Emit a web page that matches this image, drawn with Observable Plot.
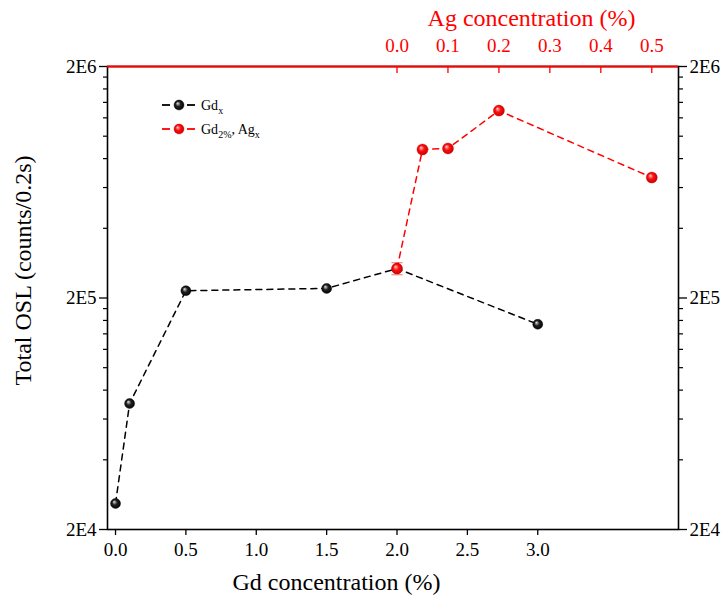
<!DOCTYPE html>
<html><head><meta charset="utf-8">
<script src="https://cdn.jsdelivr.net/npm/d3@7"></script>
<script src="https://cdn.jsdelivr.net/npm/@observablehq/plot@0.6"></script>
<style>
body{margin:0;background:#fff}
svg{display:block}
</style>
</head><body><div id="chart"></div>
<script>
// Data
const gdConc = [0, 0.1, 0.5, 1.5, 2.0, 3.0];
const gdOSL  = [25900, 70000, 215000, 220000, 268000, 154000];
const agConc = [0.0, 0.05, 0.1, 0.2, 0.5];
const agOSL  = [268000, 876000, 885000, 1290000, 663000];
const agErr  = [16000, 0, 0, 0, 0];
const gdTicks = [0, 0.5, 1.0, 1.5, 2.0, 2.5, 3.0];
const agTicks = [0.0, 0.1, 0.2, 0.3, 0.4, 0.5];
const yTicks = [2e4, 2e5, 2e6];
const yTickLabels = ["2E4", "2E5", "2E6"];
const yMinor = [4e4, 6e4, 8e4, 1e5, 1.2e5, 1.4e5, 1.6e5, 1.8e5,
                4e5, 6e5, 8e5, 1e6, 1.2e6, 1.4e6, 1.6e6, 1.8e6];

// Ag axis sits on top: Ag 0 aligned with Gd 2.0
const AG_ORIGIN = 2.0, AG_SCALE = 3.62;
const agToX = a => AG_ORIGIN + a * AG_SCALE;

const gdData = gdConc.map((c, i) => ({x: c, y: gdOSL[i]}));
const agData = agConc.map((c, i) => ({x: agToX(c), y: agOSL[i], e: agErr[i]}));
const agErrData = agData.filter(d => d.e > 0);
const fmtY = d => yTickLabels[yTicks.indexOf(d)];

const SERIF = "'Liberation Serif', 'Times New Roman', Times, 'DejaVu Serif', serif";
const RED = "#ff0000";
const TICK_FS = 19, TITLE_FS = 24;
const plot = Plot.plot({
  width: 725, height: 606,
  marginLeft: 107, marginRight: 47, marginTop: 66, marginBottom: 77,
  style: {fontFamily: SERIF, fontSize: "19px", color: "black", background: "white"},
  x: {domain: [-0.057, 4.0]},
  y: {type: "log", domain: [2e4, 2e6]},
  marks: [
    Plot.frame({stroke: "black", strokeWidth: 1.6}),
    Plot.ruleY([2e6], {stroke: RED, strokeWidth: 2}),
    Plot.axisX(gdTicks, {anchor: "bottom", tickSize: 6, tickPadding: 7, tickFormat: d => d.toFixed(1), label: null, strokeWidth: 1.3, fontSize: TICK_FS}),
    Plot.axisX(agTicks.map(agToX), {anchor: "top", tickSize: 6, dy: 6, tickFormat: () => "", label: null, stroke: RED, strokeWidth: 1.3}),
    Plot.axisX(agTicks.map(agToX), {anchor: "top", tickSize: 0, tickPadding: 15, tickFormat: (d, i) => agTicks[i].toFixed(1), label: null, fill: RED, fontSize: TICK_FS}),
    Plot.axisY(yTicks, {anchor: "left", tickSize: 8, tickPadding: 3, tickFormat: fmtY, label: null, strokeWidth: 1.3, fontSize: TICK_FS}),
    Plot.axisY(yTicks, {anchor: "right", tickSize: 8, tickPadding: 3, tickFormat: fmtY, label: null, strokeWidth: 1.3, fontSize: TICK_FS}),
    Plot.axisY(yMinor, {anchor: "left", tickSize: 4, tickFormat: () => "", label: null, strokeWidth: 1.2}),
    Plot.axisY(yMinor, {anchor: "right", tickSize: 4, tickFormat: () => "", label: null, strokeWidth: 1.2}),
    Plot.text(["Gd concentration (%)"], {x: 1.57, frameAnchor: "bottom", dy: 60, fontSize: TITLE_FS}),
    Plot.text(["Ag concentration (%)"], {x: agToX(0.264), frameAnchor: "top", dy: -58, fontSize: TITLE_FS, fill: RED}),
    Plot.text(["Total OSL (counts/0.2s)"], {y: 2.63e5, frameAnchor: "left", textAnchor: "middle", dx: -84, rotate: -90, fontSize: TITLE_FS}),
    Plot.line(gdData, {x: "x", y: "y", stroke: "black", strokeWidth: 1.5, strokeDasharray: "6,5"}),
    Plot.line(agData, {x: "x", y: "y", stroke: RED, strokeWidth: 1.5, strokeDasharray: "6,5"}),
    Plot.ruleX(agErrData, {x: "x", y1: d => d.y - d.e, y2: d => d.y + d.e, stroke: "#ff6a6a", strokeWidth: 1}),
    Plot.link(agErrData, {x1: d => d.x - 0.04, x2: d => d.x + 0.04, y1: d => d.y - d.e, y2: d => d.y - d.e, stroke: "#ff6a6a", strokeWidth: 1}),
    Plot.link(agErrData, {x1: d => d.x - 0.04, x2: d => d.x + 0.04, y1: d => d.y + d.e, y2: d => d.y + d.e, stroke: "#ff6a6a", strokeWidth: 1}),
    Plot.dot(gdData, {x: "x", y: "y", r: 5, fill: "url(#ballBlack)", stroke: "black", strokeWidth: 0.4}),
    Plot.dot(agData, {x: "x", y: "y", r: 5.5, fill: "url(#ballRed)", stroke: "#d00000", strokeWidth: 0.4})
  ]
});

const svg = d3.select(plot);
const defs = svg.insert("defs", ":first-child");
function ball(id, c0, c1, c2) {
  const g = defs.append("radialGradient").attr("id", id)
    .attr("cx", "50%").attr("cy", "50%").attr("r", "55%").attr("fx", "35%").attr("fy", "32%");
  g.append("stop").attr("offset", "0%").attr("stop-color", c0);
  g.append("stop").attr("offset", "45%").attr("stop-color", c1);
  g.append("stop").attr("offset", "100%").attr("stop-color", c2);
}
ball("ballBlack", "#e8e8e8", "#222", "#000");
ball("ballRed", "#ffd0d0", "#ff1010", "#c00000");

// legend
const leg = svg.append("g").attr("font-size", 14).attr("text-anchor", "start");
const items = [
  {y: 105, color: "black", fill: "url(#ballBlack)", stroke: "black", parts: [["Gd", false], ["x", true]]},
  {y: 129, color: RED, fill: "url(#ballRed)", stroke: "#d00000", parts: [["Gd", false], ["2%", true], [", Ag", false], ["x", true]]}
];
items.forEach(it => {
  leg.append("line").attr("x1", 162).attr("x2", 170).attr("y1", it.y).attr("y2", it.y).attr("stroke", it.color).attr("stroke-width", 1.8);
  leg.append("line").attr("x1", 187).attr("x2", 195).attr("y1", it.y).attr("y2", it.y).attr("stroke", it.color).attr("stroke-width", 1.8);
  leg.append("circle").attr("cx", 179).attr("cy", it.y).attr("r", 5).attr("fill", it.fill).attr("stroke", it.stroke).attr("stroke-width", 0.4);
  const t = leg.append("text").attr("x", 201).attr("y", it.y + 5).attr("fill", "black");
  let shifted = false;
  it.parts.forEach(([s, sub]) => {
    const ts = t.append("tspan").text(s);
    if (sub) { ts.attr("font-size", 10).attr("dy", 4); shifted = true; }
    else if (shifted) { ts.attr("dy", -4); shifted = false; }
  });
});

svg.selectAll("text").attr("font-family", SERIF).style("font-family", SERIF);

document.getElementById("chart").appendChild(plot);
</script>
</body></html>
